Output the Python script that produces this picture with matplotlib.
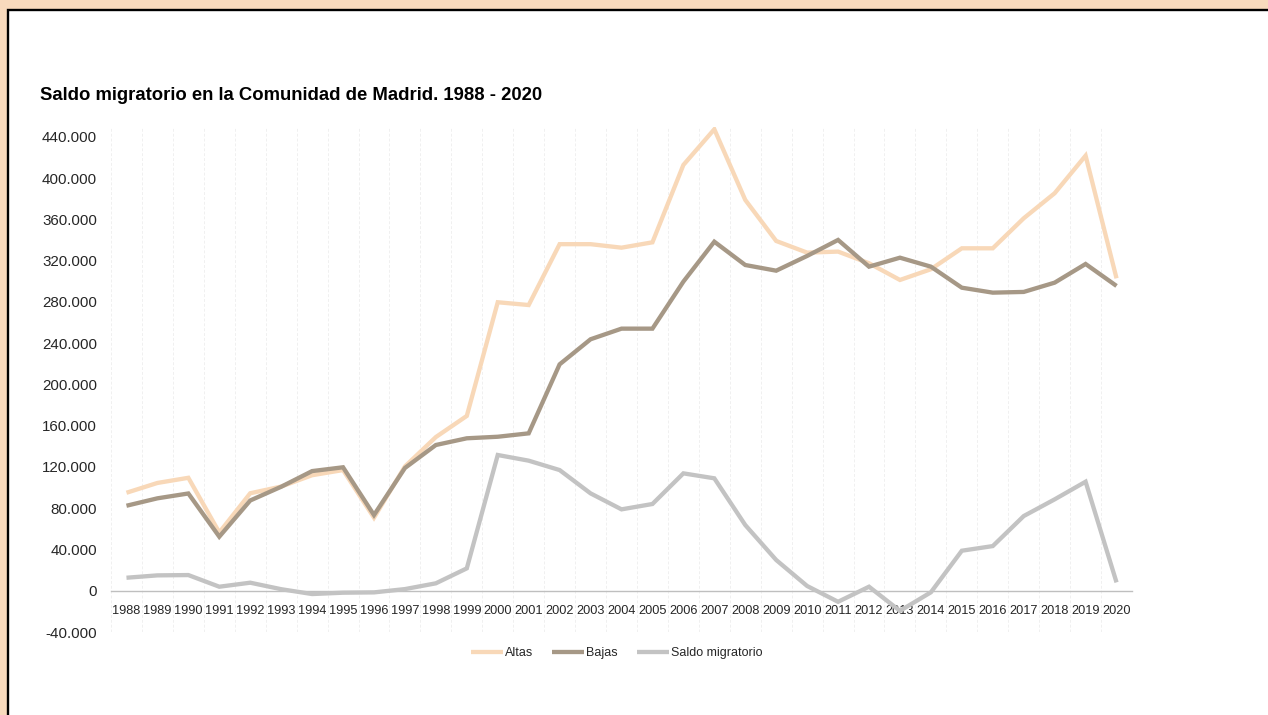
import matplotlib
matplotlib.use("Agg")
import matplotlib.pyplot as plt
from matplotlib.patches import Rectangle
from matplotlib.ticker import FuncFormatter, FixedLocator

plt.rcParams['font.family'] = ['Liberation Sans', 'DejaVu Sans']

years = list(range(1988, 2021))
altas = [95000, 104500, 109500, 56500, 94500, 101000, 112000, 117000, 70800, 120500,
         149000, 169500, 279700, 277000, 336000, 336000, 332600, 337800, 412800, 447400,
         378900, 339100, 327800, 328800, 317500, 301300, 311700, 332000, 332000, 361100,
         385400, 421800, 302900]
bajas = [82400, 89600, 94300, 52400, 87500, 100800, 116000, 119700, 73400, 119000,
         141300, 147800, 149300, 152600, 219500, 243800, 254100, 254100, 299700, 338400,
         315800, 310300, 324600, 340100, 314200, 322900, 314200, 293800, 289000, 289700,
         298700, 316800, 295500]
saldo = [12600, 14900, 15200, 3900, 7800, 1500, -3200, -1900, -1600, 1600,
         7200, 21700, 131600, 126100, 117000, 94400, 78900, 84100, 113800, 109000,
         63700, 29800, 4600, -10700, 3900, -19500, -1500, 38800, 43300, 72400,
         88600, 105700, 8100]
series_names = ["Altas", "Bajas", "Saldo migratorio"]
colors = ["#F8D8B8", "#A69886", "#C3C3C3"]

W, H = 1268, 715
fig = plt.figure(figsize=(W / 100, H / 100), dpi=100)
fig.patch.set_facecolor("#F8DABD")

panel = Rectangle((7.5 / W, -0.1), 1.2, (H - 10) / H + 0.1, transform=fig.transFigure,
                  facecolor="white", edgecolor="black", linewidth=1.7, zorder=-5)
fig.add_artist(panel)

ax = fig.add_axes([111 / W, 1 - 632 / H, (1132 - 111) / W, (632 - 127) / H])
ax.set_facecolor("none")

x = list(range(len(years)))
for vals, name, c in zip([altas, bajas, saldo], series_names, colors):
    ax.plot(x, vals, color=c, linewidth=3.1, label=name, solid_joinstyle="miter",
            solid_capstyle="butt", zorder=3)

ax.set_xlim(-0.5, len(years) - 0.5)
ax.set_ylim(-40000, 449600)

ax.yaxis.set_major_locator(FixedLocator(list(range(-40000, 440001, 40000))))
ax.yaxis.set_major_formatter(FuncFormatter(lambda v, p: f"{int(v):,}".replace(",", ".")))
ax.set_xticks(x)
ax.set_xticklabels([str(y) for y in years])
ax.xaxis.set_minor_locator(FixedLocator([i - 0.5 for i in range(len(years) + 1)]))

for s in ["top", "right", "left"]:
    ax.spines[s].set_visible(False)
ax.spines["bottom"].set_position(("data", 0))
ax.spines["bottom"].set_color("#BFBFBF")
ax.spines["bottom"].set_linewidth(1.0)
ax.spines["bottom"].set_zorder(2)

ax.grid(True, which="minor", axis="x", color="#F0F0F0", linewidth=0.7,
        linestyle=(0, (3, 2)), zorder=0)
ax.tick_params(axis="x", which="both", length=0, pad=10.5, labelsize=9.2, labelcolor="#262626")
ax.tick_params(axis="y", which="both", length=0, pad=10, labelsize=10.9, labelcolor="#262626")

fig.text(40 / W, 1 - 95 / H, "Saldo migratorio en la Comunidad de Madrid. 1988 - 2020",
         ha="left", va="center", fontsize=13.3, fontweight="bold", color="black")

fig.legend(loc="center", bbox_to_anchor=(616.5 / W, 1 - 653 / H), ncol=3, frameon=False,
           fontsize=9, handlelength=2.6, handletextpad=0.15, columnspacing=1.5,
           labelcolor="#262626")

fig.savefig("out.png", dpi=100, facecolor=fig.get_facecolor())
